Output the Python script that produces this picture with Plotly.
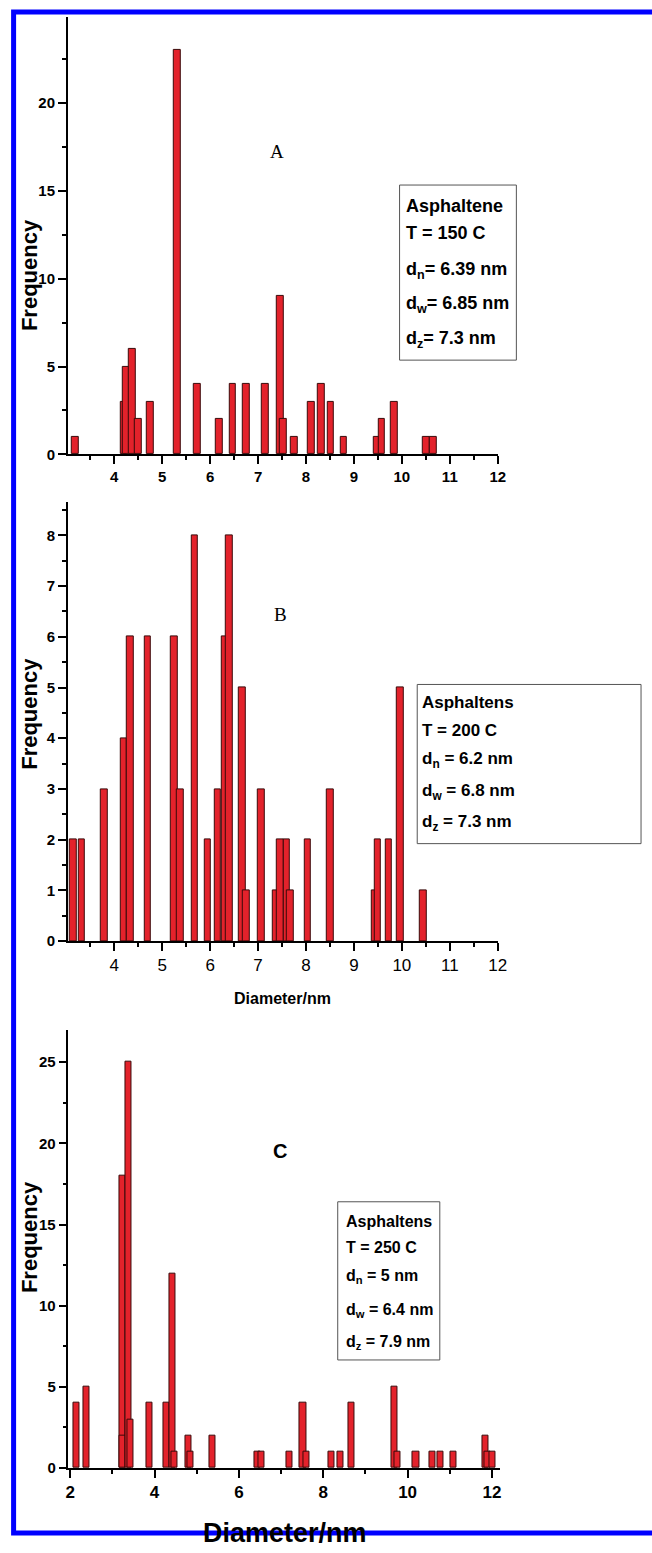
import plotly.graph_objects as go

W, H = 652, 1553

# ---------------- data ----------------
a_diam = [3.19, 4.20, 4.25, 4.38, 4.50, 4.75, 5.32, 5.73, 6.19, 6.47, 6.75, 7.15, 7.46, 7.53, 7.75,
          8.11, 8.32, 8.52, 8.79, 9.49, 9.58, 9.84, 10.51, 10.66]
a_freq = [1, 3, 5, 6, 2, 3, 23, 4, 2, 4, 4, 4, 9, 2, 1,
          3, 4, 3, 1, 1, 2, 3, 1, 1]

b_diam = [3.15, 3.32, 3.79, 4.20, 4.34, 4.70, 5.25, 5.38, 5.68, 5.95, 6.16, 6.32, 6.40, 6.67, 6.75,
          7.07, 7.38, 7.47, 7.60, 7.67, 8.04, 8.50, 9.45, 9.50, 9.73, 9.96, 10.45]
b_freq = [2, 2, 3, 4, 6, 6, 6, 3, 8, 2, 3, 6, 8, 5, 1,
          3, 1, 2, 2, 1, 2, 3, 1, 2, 2, 5, 1]

c_diam = [2.15, 2.39, 3.23, 3.25, 3.39, 3.43, 3.88, 4.29, 4.42, 4.47, 4.80, 4.85, 5.38, 6.45, 6.54,
          7.20, 7.52, 7.60, 8.19, 8.40, 8.67, 9.68, 9.75, 10.20, 10.60, 10.77, 11.08, 11.84, 11.90, 12.02]
c_freq = [4, 5, 18, 2, 25, 3, 4, 4, 12, 1, 2, 1, 2, 1, 1,
          1, 4, 1, 1, 1, 4, 5, 1, 1, 1, 1, 1, 2, 1, 1]

legend_a = ["Asphaltene", "T = 150 C", "d<sub>n</sub>= 6.39 nm", "d<sub>w</sub>= 6.85 nm", "d<sub>z</sub>= 7.3 nm"]
legend_b = ["Asphaltens", "T = 200 C", "d<sub>n</sub> = 6.2 nm", "d<sub>w</sub> = 6.8 nm", "d<sub>z</sub> = 7.3 nm"]
legend_c = ["Asphaltens", "T = 250 C", "d<sub>n</sub> = 5 nm", "d<sub>w</sub> = 6.4 nm", "d<sub>z</sub> = 7.9 nm"]

# ---------------- helpers ----------------
def px(x):
    return x / W

def py(y):
    return 1 - y / H

BAR_FILL = "#E3222B"
BAR_LINE = "#3A0A0A"

fig = go.Figure()
fig.add_trace(go.Bar(x=a_diam, y=a_freq, width=0.14, xaxis="x", yaxis="y",
                     marker=dict(color=BAR_FILL, line=dict(color=BAR_LINE, width=1))))
fig.add_trace(go.Bar(x=b_diam, y=b_freq, width=0.14, xaxis="x2", yaxis="y2",
                     marker=dict(color=BAR_FILL, line=dict(color=BAR_LINE, width=1))))
fig.add_trace(go.Bar(x=c_diam, y=c_freq, width=0.145, xaxis="x3", yaxis="y3",
                     marker=dict(color=BAR_FILL, line=dict(color=BAR_LINE, width=1))))

common = dict(showline=True, linecolor="black", linewidth=1.5, ticks="outside",
              tickcolor="black", tickwidth=1.5, ticklen=8, showgrid=False, zeroline=False,
              fixedrange=True)

def xax(domain, rng, dtick, minor, size, weight, anchor):
    d = dict(common)
    d.update(domain=domain, range=rng, dtick=dtick, tick0=0, anchor=anchor,
             minor=dict(ticks="outside", ticklen=4, tickwidth=1.5, tickcolor="black", dtick=minor, tick0=0),
             tickfont=dict(family="Liberation Sans, Arial", size=size, color="black", weight=weight))
    return d

def yax(domain, rng, dtick, minor, size, anchor):
    d = dict(common)
    d.update(domain=domain, range=rng, dtick=dtick, tick0=0, anchor=anchor,
             minor=dict(ticks="outside", ticklen=4, tickwidth=1.5, tickcolor="black", dtick=minor, tick0=0),
             tickfont=dict(family="Liberation Sans, Arial", size=size, color="black", weight="bold"))
    return d

fig.update_layout(
    width=W, height=H, margin=dict(l=0, r=0, t=0, b=0),
    paper_bgcolor="white", plot_bgcolor="white", showlegend=False, bargap=0,
    barmode="overlay",
    xaxis=xax([px(66), px(504)], [3.03, 12], 1, 0.5, 15, "bold", "y"),
    yaxis=yax([py(456.7), py(17)], [0, 24.9], 5, 2.5, 15, "x"),
    xaxis2=xax([px(66), px(504)], [3.03, 12], 1, 0.5, 17, "normal", "y2"),
    yaxis2=yax([py(946), py(505)], [0, 8.65], 1, 0.5, 15, "x2"),
    xaxis3=xax([px(66.7), px(506.7)], [1.96, 12.2], 2, 1, 17, "bold", "y3"),
    yaxis3=yax([py(1475.7), py(1035)], [0, 27], 5, 2.5, 15, "x3"),
)

shapes = []
ann = []

def text(x, y, s, size, family="Liberation Sans, Arial", bold=True, xanchor="center", angle=0):
    ann.append(dict(xref="paper", yref="paper", x=px(x), y=py(y), text=("<b>%s</b>" % s) if bold else s,
                    showarrow=False, xanchor=xanchor, yanchor="middle", textangle=angle,
                    font=dict(family=family, size=size, color="black")))

# axis titles
text(27, 277, "Frequency", 22, angle=-90)
text(27, 718, "Frequency", 22, angle=-90)
text(27, 1244, "Frequency", 22, angle=-90)
text(285, 1004, "Diameter/nm", 16)
text(287, 1541, "Diameter/nm", 27)

# panel labels
text(279, 152, "A", 19, family="Liberation Serif, Times New Roman", bold=False)
text(283, 618, "B", 19, family="Liberation Serif, Times New Roman", bold=False)
text(282, 1157, "C", 20)

# legend boxes
def box(x0, y0, x1, y1):
    shapes.append(dict(type="rect", xref="paper", yref="paper", x0=px(x0), x1=px(x1),
                       y0=py(y1), y1=py(y0), line=dict(color="#555555", width=1),
                       fillcolor="white", layer="above"))

box(404, 186, 523, 362)
for s, y in zip(legend_a, [207, 234, 272, 306, 341]):
    text(409, y, s, 18, xanchor="left")

box(422, 688, 650, 848)
for s, y in zip(legend_b, [706, 734, 764, 796, 827]):
    text(425, y, s, 17, xanchor="left")

box(341, 1208, 445, 1367)
for s, y in zip(legend_c, [1228, 1254, 1283, 1317, 1349]):
    text(347, y, s, 16, xanchor="left")

# blue frame
shapes.append(dict(type="rect", xref="paper", yref="paper", x0=px(10.8), x1=px(680),
                   y0=py(1541), y1=py(12), line=dict(color="#0000FF", width=5), layer="below"))

fig.update_layout(shapes=shapes, annotations=ann)
fig.write_html("out.html", config={"displayModeBar": False},
               post_script="document.body.style.margin='0';document.body.style.overflow='hidden';")
